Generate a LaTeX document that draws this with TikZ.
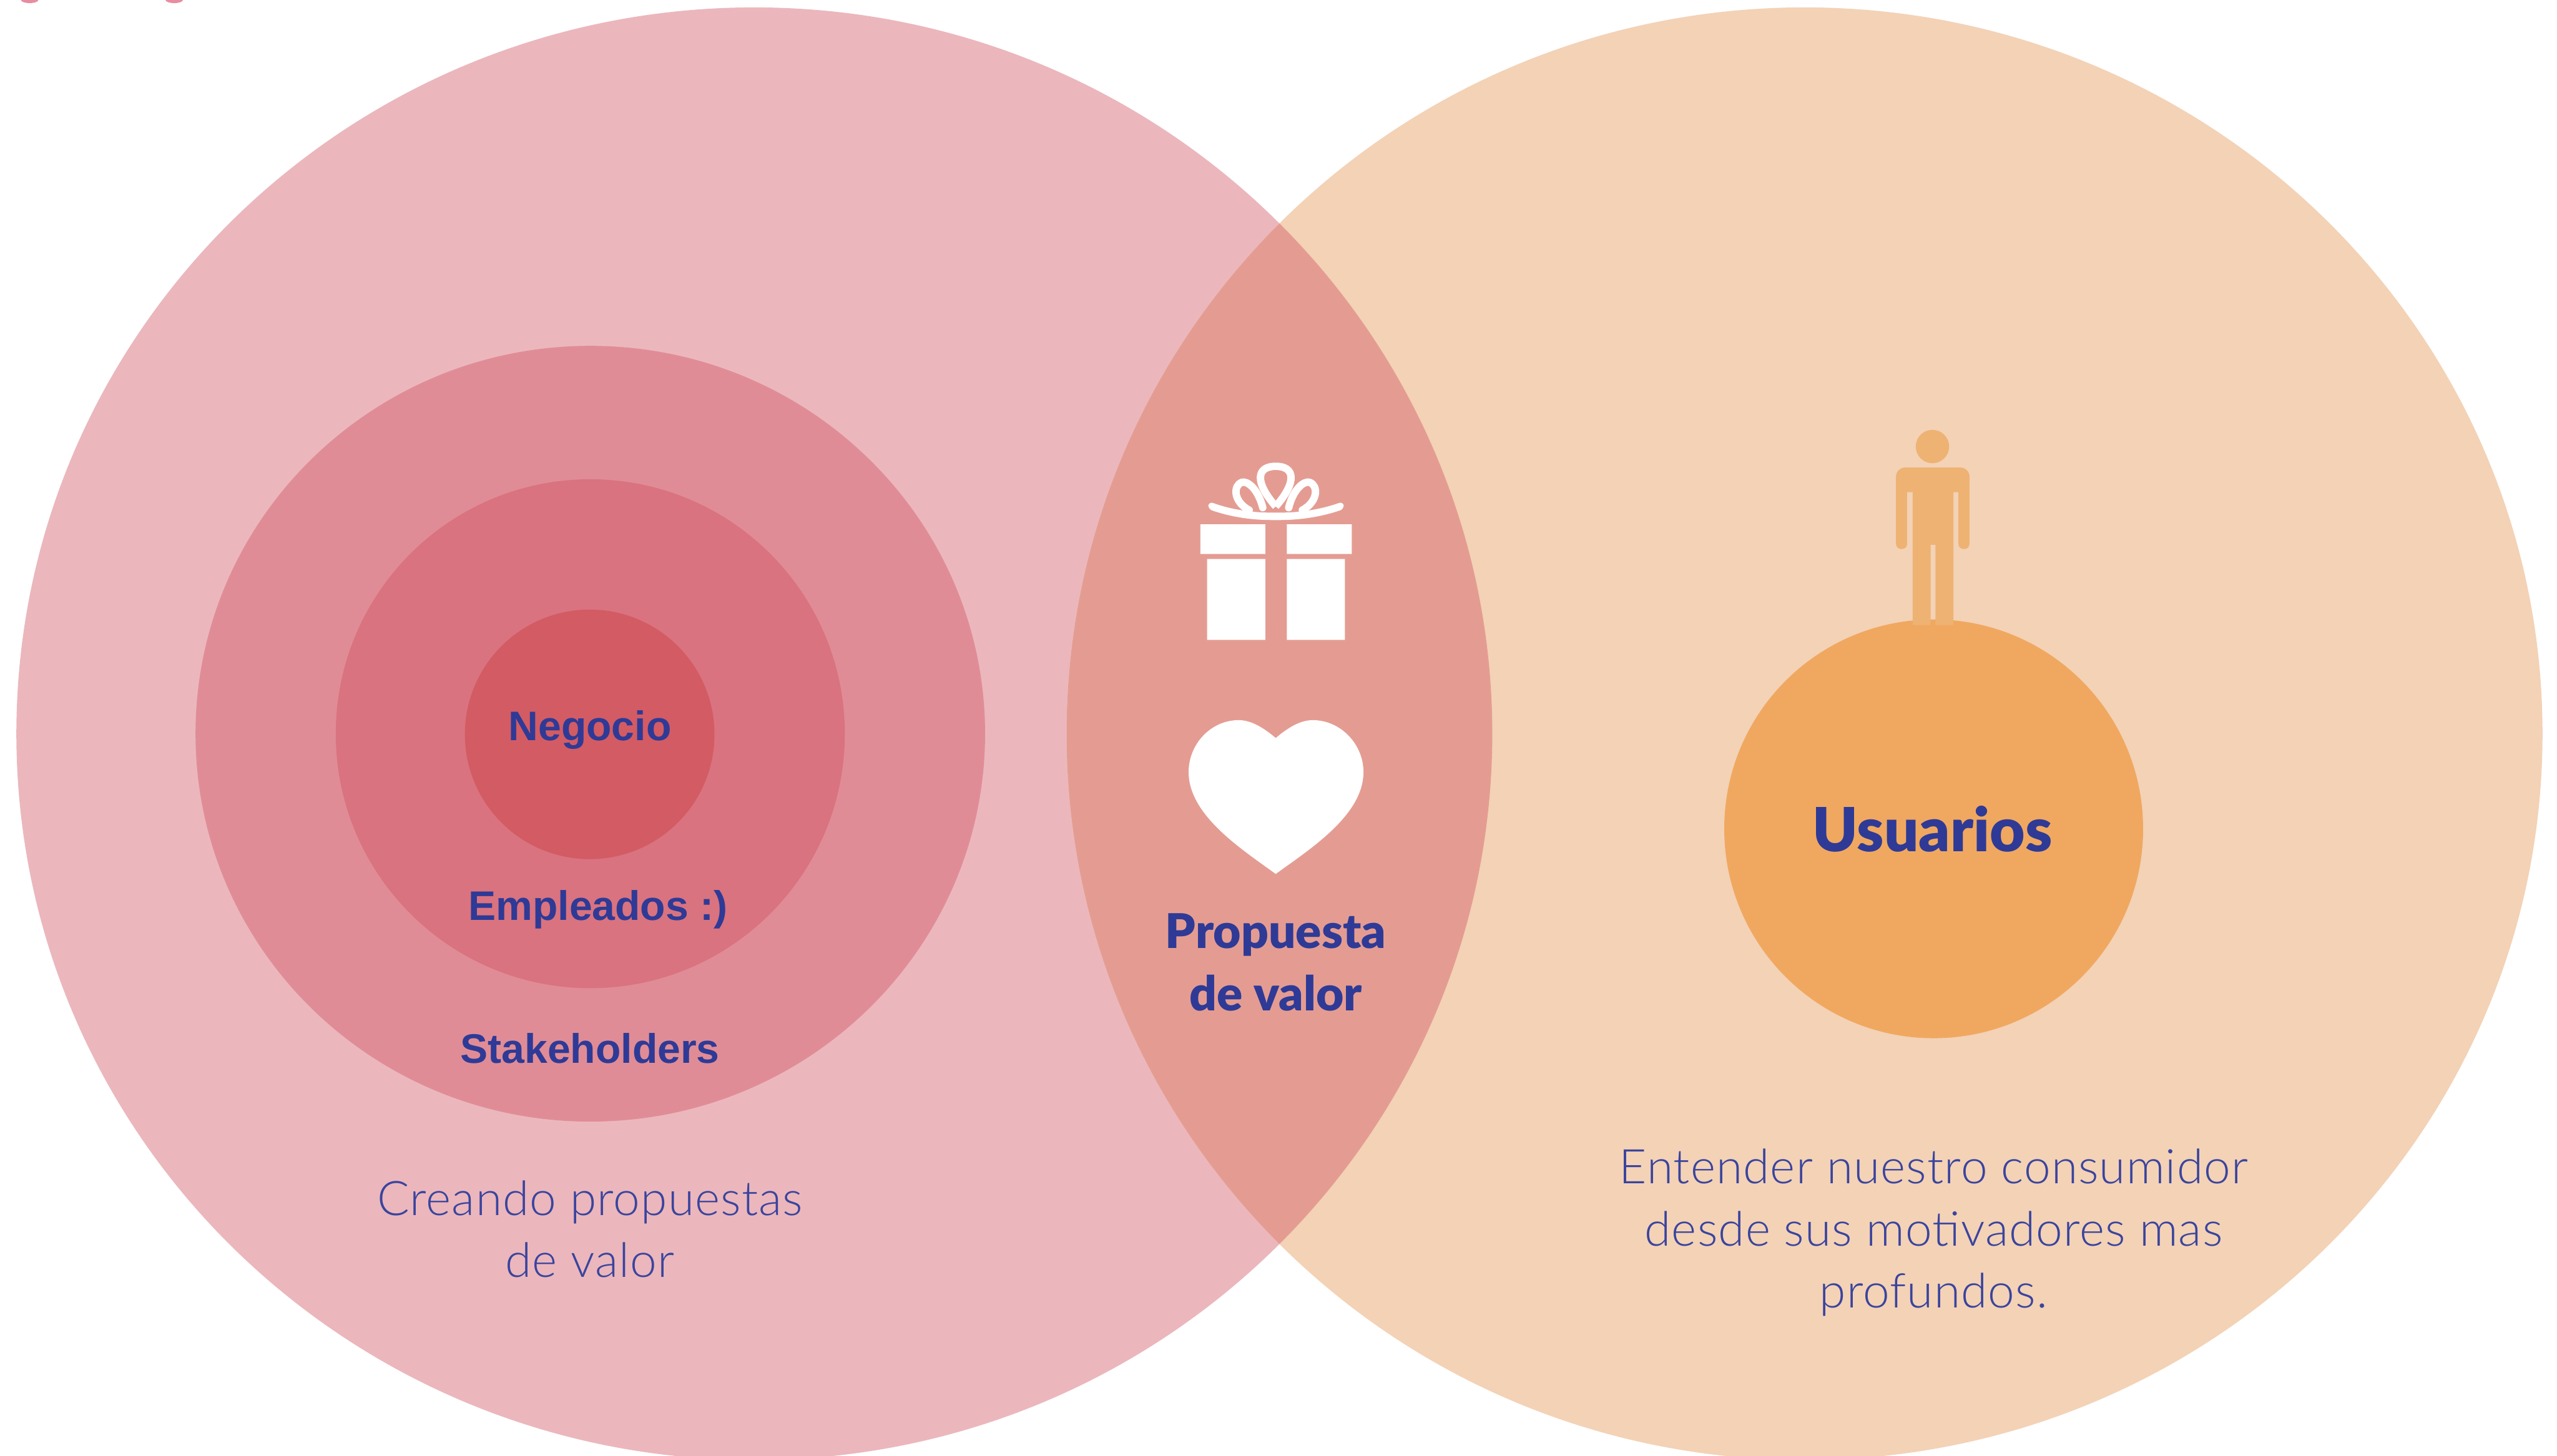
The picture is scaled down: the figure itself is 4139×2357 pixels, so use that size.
\documentclass[tikz,border=0pt]{standalone}
\usepackage{fontspec}
\setmainfont{Lato}
\newfontfamily\softfont{Lato Light}[LetterSpace=1.5]
\newfontfamily\heavyfont{Lato Black}
\newfontfamily\helv{Liberation Sans}[Scale=1]
\definecolor{leftc}{HTML}{EBB7BC}
\definecolor{rightc}{HTML}{F3D2B6}
\definecolor{overc}{HTML}{E49C92}
\definecolor{ringa}{HTML}{E08C96}
\definecolor{ringb}{HTML}{D9737F}
\definecolor{ringc}{HTML}{D35B64}
\definecolor{orangec}{HTML}{F0A860}
\definecolor{personc}{HTML}{EEB273}
\definecolor{navy}{HTML}{2E3A96}
\definecolor{softnavy}{HTML}{3A449E}
\definecolor{blob}{HTML}{E88CA0}
\tikzset{
  x=0.01cm,y=-0.01cm,
  helvlabel/.style={font=\helv\bfseries\fontsize{19}{24}\selectfont,text=navy,inner sep=0pt,align=center},
  softlabel/.style={font=\softfont\fontsize{22}{28.6}\selectfont,text=softnavy,inner sep=0pt,align=center},
  heavylabel/.style={font=\heavyfont\fontsize{22}{28.6}\selectfont,text=navy,inner sep=0pt,align=center},
}
\begin{document}
\begin{tikzpicture}
\useasboundingbox (0,0) rectangle (4139,2357);
\clip (0,0) rectangle (4139,2357);
\fill[white] (0,0) rectangle (4139,2357);
% clipped remnants at top edge
\fill[blob] (48,0) ellipse [x radius=14,y radius=5];
\fill[blob] (282,0) ellipse [x radius=14,y radius=5];
% large circles
\fill[leftc] (1221,1188) ellipse [x radius=1194.5,y radius=1176];
\fill[rightc] (2921,1188) ellipse [x radius=1194.5,y radius=1176];
\begin{scope}
\clip (1221,1188) ellipse [x radius=1194.5,y radius=1176];
\fill[overc] (2921,1188) ellipse [x radius=1194.5,y radius=1176];
\end{scope}
% nested circles
\fill[ringa] (955.5,1188) ellipse [x radius=639,y radius=628];
\fill[ringb] (955.5,1188) circle [radius=412];
\fill[ringc] (954.5,1189) circle [radius=202];
\fill[orangec] (3130,1342) circle [radius=339];
% gift
\fill[white] (1943,849) rectangle (2048,897) (2083,849) rectangle (2188,897)
  (1954,905) rectangle (2048,1036) (2083,905) rectangle (2177,1036);
\fill[white,rounded corners=2pt] (1957,812) .. controls (1995,826) and (2030,830) .. (2065,830)
  .. controls (2100,830) and (2135,826) .. (2174,812) -- (2176,824)
  .. controls (2135,838) and (2100,842) .. (2065,842)
  .. controls (2030,842) and (1995,838) .. (1955,824) -- cycle;
\draw[white,line width=3.4pt,line join=round]
  (2065,820) .. controls (2030,780) and (2034,755) .. (2065,755)
  .. controls (2096,755) and (2100,780) .. (2065,820);
\draw[white,line width=3.4pt,line cap=round]
  (2044,822) .. controls (2036,790) and (2018,778) .. (2010,781) .. controls (1996,786) and (1996,812) .. (2022,826);
\draw[white,line width=3.4pt,line cap=round]
  (2086,822) .. controls (2094,790) and (2112,778) .. (2120,781) .. controls (2134,786) and (2134,812) .. (2108,826);
% heart
\fill[white] (2065,1195) .. controls (2045,1178) and (2025,1166) .. (2005,1166)
  .. controls (1960,1166) and (1924,1205) .. (1924,1250)
  .. controls (1924,1320) and (2010,1375) .. (2065,1415)
  .. controls (2120,1375) and (2207,1320) .. (2207,1250)
  .. controls (2207,1205) and (2170,1166) .. (2125,1166)
  .. controls (2105,1166) and (2085,1178) .. (2065,1195) -- cycle;
% person
\fill[personc] (3128,723) circle [radius=27];
\fill[personc] (3084,757) -- (3173,757) .. controls (3182,757) and (3188,764) .. (3188,772)
  -- (3188,880) .. controls (3188,886) and (3184,889) .. (3179,889)
  .. controls (3174,889) and (3170,886) .. (3170,880) -- (3170,797) -- (3162,797)
  -- (3162,1012) -- (3133,1012) -- (3133,882) -- (3125,882) -- (3125,1012) -- (3096,1012)
  -- (3096,797) -- (3087,797) -- (3087,880) .. controls (3087,886) and (3083,889) .. (3078,889)
  .. controls (3073,889) and (3069,886) .. (3069,880) -- (3069,772)
  .. controls (3069,764) and (3075,757) .. (3084,757) -- cycle;
% labels
\node[helvlabel] (negocio) at (955,1182) {Negocio};
\node[helvlabel] (empleados) at (968,1473) {Empleados :)};
\node[helvlabel] (stake) at (955,1697) {Stakeholders};
\node[softlabel] (creando) at (955,1990) {Creando propuestas\\de valor};
\node[heavylabel] (propuesta) at (2065,1558) {Propuesta\\de valor};
\node[heavylabel,font=\heavyfont\fontsize{28}{32}\selectfont] (usuarios) at (3128,1342) {Usuarios};
\node[softlabel] (entender) at (3130,1996) {Entender nuestro consumidor\\desde sus motivadores mas\\profundos.};
\end{tikzpicture}
\end{document}
